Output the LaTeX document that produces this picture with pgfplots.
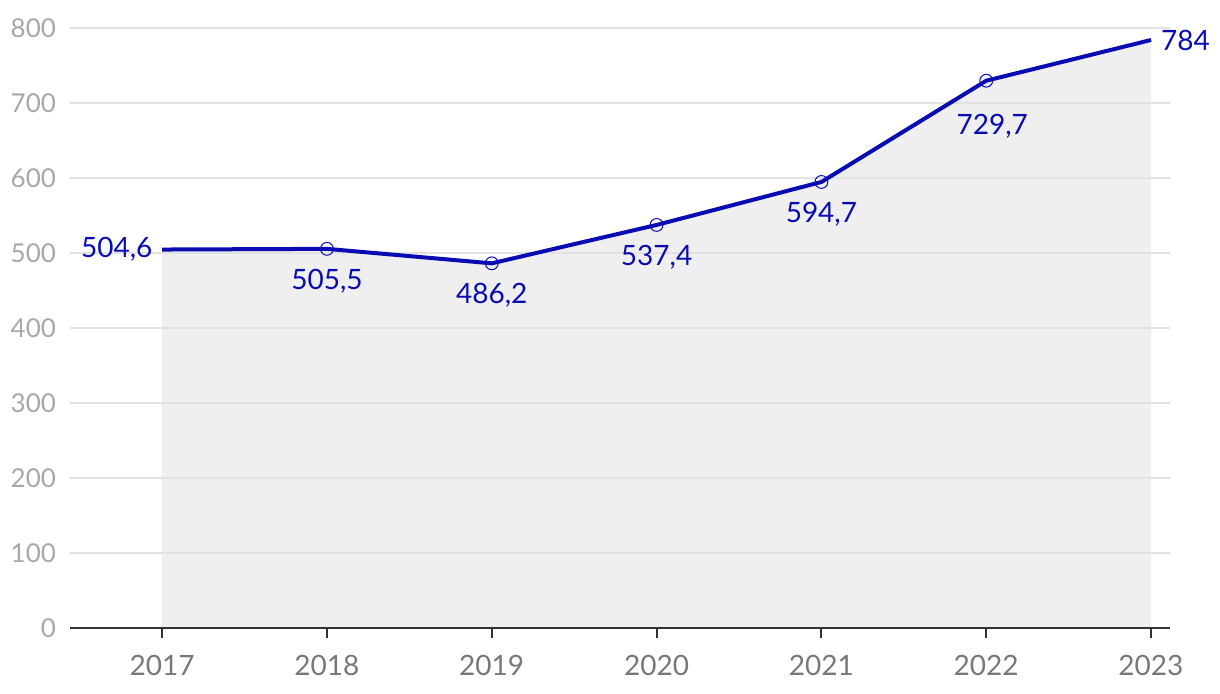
\documentclass[border=0pt]{standalone}
\usepackage{pgfplots}
\pgfplotsset{compat=1.18}
\usepackage{fontspec}
\setmainfont{Lato}

\definecolor{serie}{RGB}{8,12,178}
\definecolor{flaeche}{RGB}{239,239,239}
\definecolor{gitter}{RGB}{226,226,226}
\definecolor{ytxt}{RGB}{168,168,168}
\definecolor{xtxt}{RGB}{120,120,120}

\pgfplotsset{
  wertlabel/.style={draw=none, mark=none, point meta=explicit symbolic,
    nodes near coords={\pgfplotspointmeta},
    every node near coord/.append style={text=serie,
      font=\fontsize{14}{16}\selectfont, #1}},
}

\begin{document}
\begin{tikzpicture}
  \begin{axis}[
    set layers,
    at={(0,0)}, anchor=origin,
    scale only axis,
    width=550pt, height=300pt,
    xmin=2016.441, xmax=2023.115,
    ymin=0, ymax=800,
    clip=false,
    axis x line*=bottom,
    axis y line*=left,
    y axis line style={draw=none},
    x axis line style={draw=black!80, line width=1pt},
    xtick={2017,...,2023},
    ytick={0,100,...,800},
    xtick style={draw=black!80, line width=1pt},
    major tick length=5pt,
    tick align=outside,
    ytick style={draw=none},
    ymajorgrids,
    grid style={gitter, line width=0.75pt},
    /pgf/number format/assume math mode=true,
    /pgf/number format/1000 sep={},
    yticklabel style={text=ytxt, font=\fontsize{13}{15}\selectfont, xshift=1.5pt},
    xticklabel style={text=xtxt, font=\fontsize{14}{16}\selectfont, yshift=-5pt},
  ]
    % Flaeche unter der Linie
    \addplot[on layer=axis background, draw=none, fill=flaeche] coordinates {
      (2017,504.6) (2018,505.5) (2019,486.2) (2020,537.4)
      (2021,594.7) (2022,729.7) (2023,784)
    } \closedcycle;

    % Linie
    \addplot[serie, line width=2pt, mark=none] coordinates {
      (2017,504.6) (2018,505.5) (2019,486.2) (2020,537.4)
      (2021,594.7) (2022,729.7) (2023,784)
    };

    % Punkte
    \addplot[serie, only marks, mark=o, mark size=3.2pt,
      mark options={line width=0.5pt}] coordinates {
      (2018,505.5) (2019,486.2) (2020,537.4) (2021,594.7) (2022,729.7)
    };

    % Beschriftungen unten
    \addplot[wertlabel={anchor=north, yshift=-6.5pt}] table[meta=lab] {
      x    y     lab
      2018 505.5 505,5
      2019 486.2 486,2
      2020 537.4 537,4
      2021 594.7 594,7
    };
    \addplot[wertlabel={anchor=north, yshift=-13pt, xshift=3pt}] table[meta=lab] {
      x    y     lab
      2022 729.7 729,7
    };

    % erster Wert links, letzter rechts
    \addplot[wertlabel={anchor=east, xshift=-1.3pt}] table[meta=lab] {
      x    y     lab
      2017 504.6 504,6
    };
    \addplot[wertlabel={anchor=west, xshift=1.5pt}] table[meta=lab] {
      x    y     lab
      2023 784   784
    };
  \end{axis}
  \pgfresetboundingbox
  \path[use as bounding box] (-35pt,-33pt) rectangle (575pt,314pt);
\end{tikzpicture}
\end{document}
